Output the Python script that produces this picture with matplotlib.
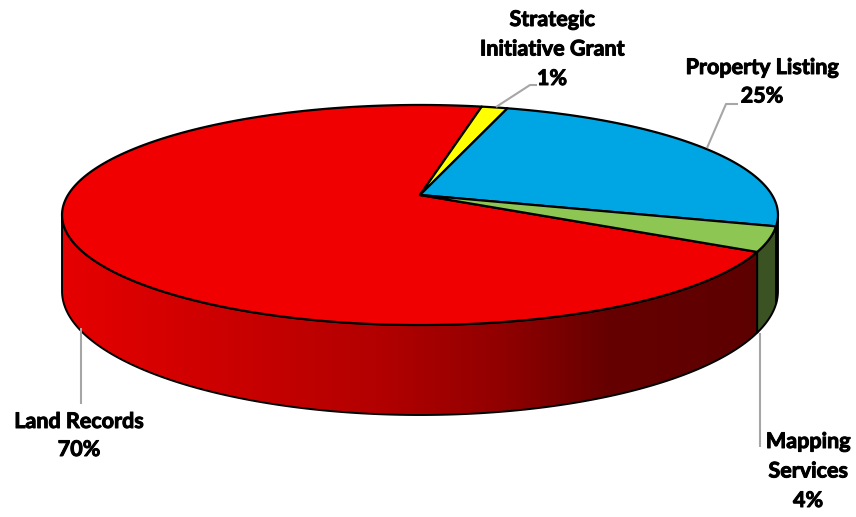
import numpy as np
import matplotlib
matplotlib.use("Agg")
import matplotlib.pyplot as plt
import matplotlib.patheffects as pe
from matplotlib.patches import Polygon
from matplotlib.colors import LinearSegmentedColormap

# ---- data ----
categories = ["Land Records", "Strategic\nInitiative Grant", "Property Listing", "Mapping\nServices"]
values = [70.2, 1.4, 24.8, 3.6]
pct_labels = ["70%", "1%", "25%", "4%"]

# ---- style ----
top_colors = ["#F00000", "#FFFF00", "#00A6E3", "#8DC652"]
side_colors = [None, "#8A8A00", "#005F85", "#3B5323"]
start_angle = 119.2          # degrees, clockwise from the back
CX, CY, A, B, C, DEPTH = 420.0, 195.0, 352.0, 106.4, 0.1818, 73.6

def proj(theta_deg, drop=0.0):
    t = np.radians(theta_deg)
    u, v = np.sin(t), -np.cos(t)
    s = 1.0 / (1.0 - C * v)
    return CX + A * u * s, CY + B * v * s + drop * s

fig = plt.figure(figsize=(8.56, 5.17), dpi=100)
ax = fig.add_axes([0, 0, 1, 1])
ax.set_xlim(0, 856)
ax.set_ylim(517, 0)
ax.axis("off")

fracs = np.array(values) / np.sum(values) * 360.0
bounds = start_angle + np.concatenate([[0], np.cumsum(fracs)])
vis_lo = 90 + np.degrees(np.arcsin(C))
vis_hi = 270 - np.degrees(np.arcsin(C))

red_cmap = LinearSegmentedColormap.from_list(
    "side", [(0.0, (0.90, 0, 0)), (0.44, (0.70, 0, 0)), (0.61, (0.57, 0, 0)),
             (0.76, (0.40, 0, 0)), (1.0, (0.36, 0, 0))])

# sides
for i in range(len(values)):
    a0, a1 = bounds[i], bounds[i + 1]
    for k in (-360, 0, 360):
        lo = max(a0 + k, vis_lo)
        hi = min(a1 + k, vis_hi)
        if hi <= lo:
            continue
        th = np.linspace(lo, hi, 200)
        xt, yt = proj(th)
        xb, yb = proj(th[::-1], DEPTH)
        pts = np.column_stack([np.concatenate([xt, xb]), np.concatenate([yt, yb])])
        if side_colors[i] is None:
            poly = Polygon(pts, closed=True, facecolor="none", edgecolor="none")
            ax.add_patch(poly)
            grad = np.linspace(0, 1, 512).reshape(1, -1)
            im = ax.imshow(grad, cmap=red_cmap, extent=[63, 780, 430, 190],
                           aspect="auto", zorder=1)
            im.set_clip_path(poly)
            ax.add_patch(Polygon(pts, closed=True, facecolor="none",
                                 edgecolor="black", lw=1.4, zorder=2))
        else:
            ax.add_patch(Polygon(pts, closed=True, facecolor=side_colors[i],
                                 edgecolor="black", lw=1.4, zorder=2))

# tops
for i in range(len(values)):
    th = np.linspace(bounds[i], bounds[i + 1], 300)
    x, y = proj(th)
    pts = np.column_stack([np.concatenate([[CX], x]), np.concatenate([[CY], y])])
    ax.add_patch(Polygon(pts, closed=True, facecolor=top_colors[i],
                         edgecolor="black", lw=1.6, joinstyle="round", zorder=3))

# leader lines and labels
leaders = [
    [(81, 328), (81, 404)],
    [(496, 107), (530, 85), (537, 85)],
    [(707, 148), (726, 104), (738, 104)],
    [(760, 333), (760, 447)],
]
label_pos = [(79, 428), (552, 26), (762, 74), (808, 448)]
line_gap = [28, 29.5, 28.5, 29.5]
for i in range(len(values)):
    lx, ly = zip(*leaders[i])
    ax.plot(lx, ly, color="#A6A6A6", lw=1.5, zorder=4, solid_capstyle="butt")
    lines = categories[i].split("\n") + [pct_labels[i]]
    x0, y0 = label_pos[i]
    for j, t in enumerate(lines):
        ax.text(x0, y0 + j * line_gap[i], t, ha="center", va="baseline",
                fontsize=15.5, fontweight="bold", family="Lato", color="black",
                zorder=5,
                path_effects=[pe.withStroke(linewidth=0.7, foreground="black")])

fig.savefig("out.png", dpi=100)
